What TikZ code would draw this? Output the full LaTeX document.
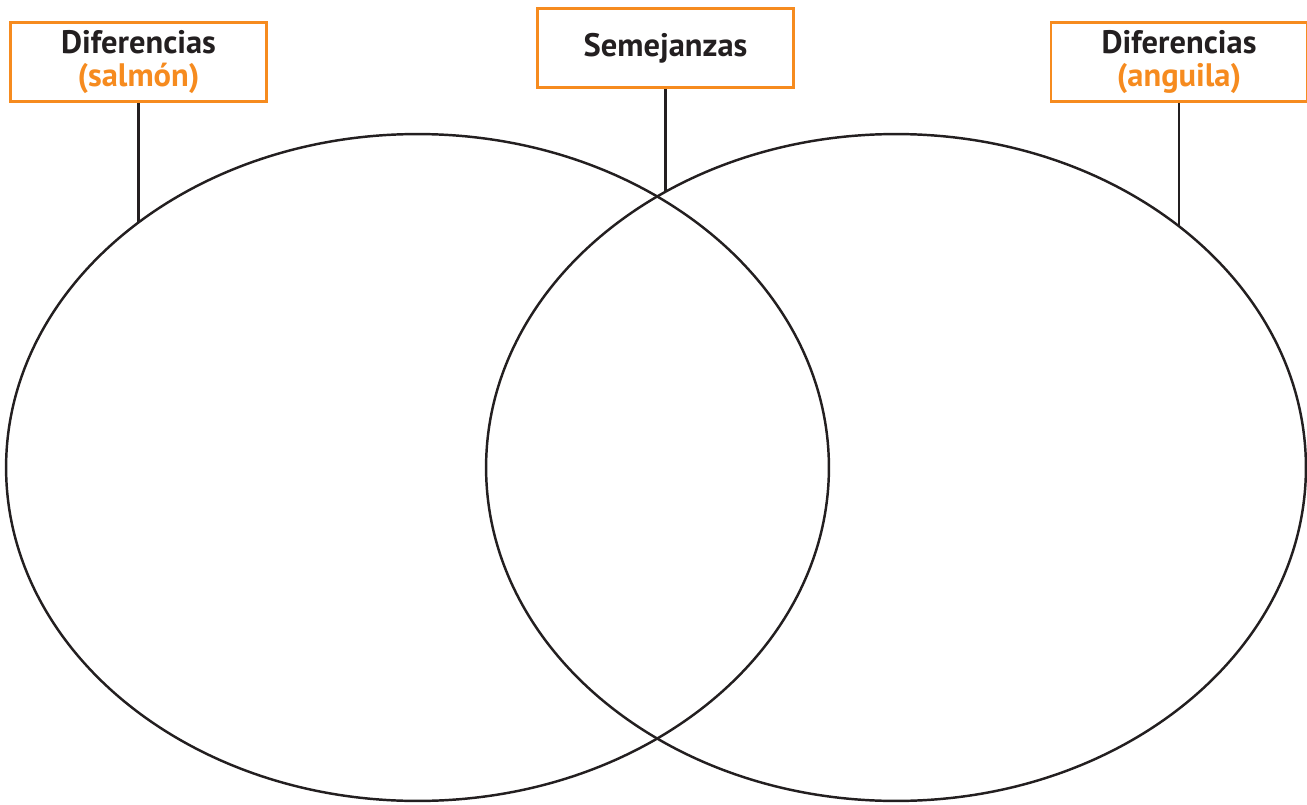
\documentclass[tikz,border=0pt]{standalone}
\usepackage{fontspec}
\setmainfont{PT Sans}
\usepackage{tikz}
\usetikzlibrary{shapes.geometric}
\definecolor{vennOrange}{HTML}{F68B1F}
\definecolor{vennInk}{HTML}{231F20}

\begin{document}
\begin{tikzpicture}[
  x=0.02cm, y=-0.02cm,
  font=\fontsize{18.5}{19}\selectfont\bfseries,
  label/.style={draw=vennOrange, line width=1.5pt, fill=white, inner sep=0pt,
                minimum width=5.12cm, minimum height=1.58cm, align=center, text=vennInk},
  set/.style={draw=vennInk, ellipse, line width=1.4pt, inner sep=0pt,
              minimum height=13.34cm},
  lead/.style={draw=vennInk, line width=1.4pt}
]
\useasboundingbox (0,0) rectangle (1307,804);

\node[set, minimum width=16.46cm] (salmon)  at (417.5,467.5) {};
\node[set, minimum width=16.4cm]  (anguila) at (896,467.5)   {};

\node[label] (difl) at (138.5,62) {Diferencias\\\textcolor{vennOrange}{(salmón)}};
\node[label] (sem)  at (665.5,48) {Semejanzas};
\node[label] (difr) at (1179,62)  {Diferencias\\\textcolor{vennOrange}{(anguila)}};

\coordinate (tipl) at (138.5,222);
\coordinate (tipm) at (665.5,192);
\coordinate (tipr) at (1179,226);
\foreach \a/\b in {difl/tipl, sem/tipm, difr/tipr}
  \draw[lead] (\a.south) -- (\b);

\end{tikzpicture}
\end{document}
